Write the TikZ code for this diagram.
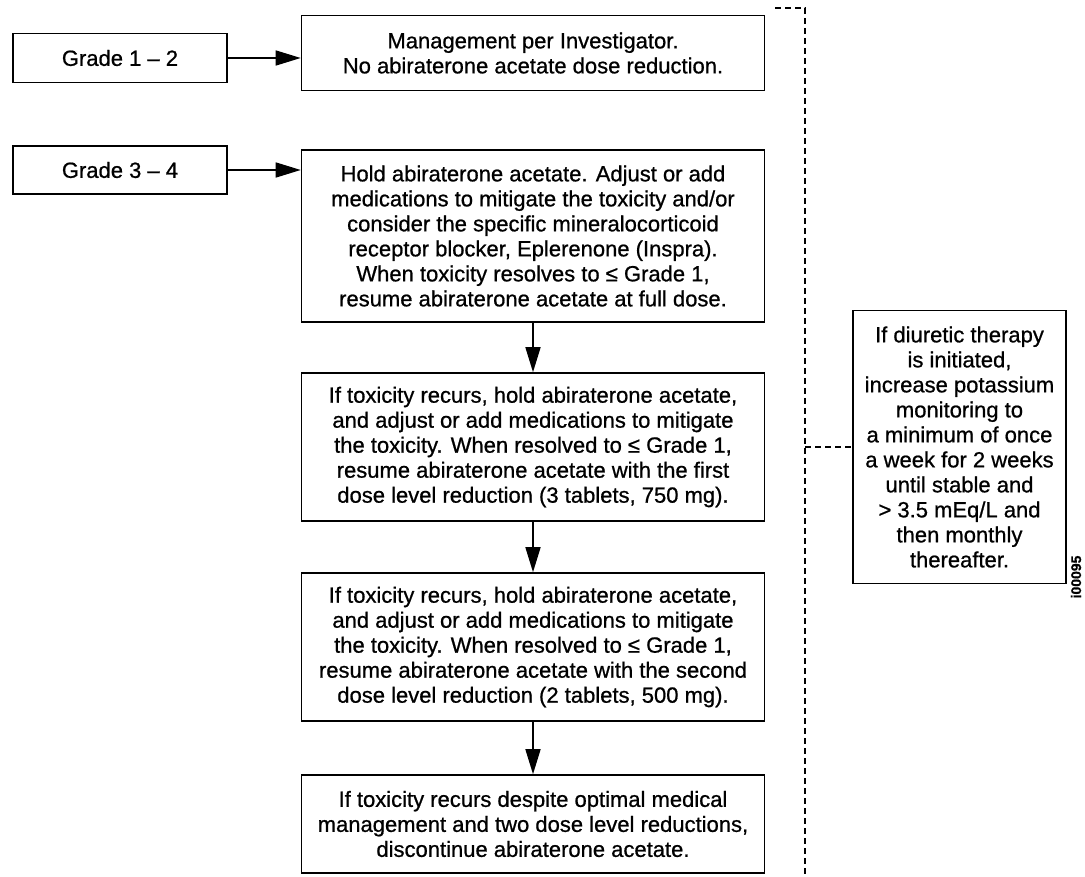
\documentclass[tikz,border=0pt]{standalone}
\usepackage{fontspec}
\setmainfont[FakeBold=0.8]{Liberation Sans}
\usetikzlibrary{arrows.meta}
\tikzset{
  box/.style={draw,line width=1.6pt,align=center,inner sep=0pt,
    font=\fontsize{22}{25}\selectfont},
  flow/.style={line width=1.6pt,-{Triangle[length=25pt,width=15pt]}},
  link/.style={line width=1.6pt,dash pattern=on 6pt off 4pt}
}
\begin{document}
\begin{tikzpicture}[x=1pt,y=-1pt]
  \useasboundingbox (0,0) rectangle (1085,877);
  \node[box,minimum width=214pt,minimum height=49pt] (g12) at (120,58) {Grade 1 – 2};
  \node[box,minimum width=214pt,minimum height=48pt] (g34) at (120,170) {Grade 3 – 4};
  \node[box,minimum width=463pt,minimum height=75pt] (mgmt) at (533,53)
    {Management per Investigator.\\No abiraterone acetate dose reduction.};
  \node[box,minimum width=463pt,minimum height=172pt] (hold) at (533,236)
    {Hold abiraterone acetate. Adjust or add\\
     medications to mitigate the toxicity and/or\\
     consider the specific mineralocorticoid\\
     receptor blocker, Eplerenone (Inspra).\\
     When toxicity resolves to ≤ Grade 1,\\
     resume abiraterone acetate at full dose.};
  \node[box,minimum width=463pt,minimum height=148pt] (rec1) at (533,447)
    {If toxicity recurs, hold abiraterone acetate,\\
     and adjust or add medications to mitigate\\
     the toxicity. When resolved to ≤ Grade 1,\\
     resume abiraterone acetate with the first\\
     dose level reduction (3 tablets, 750 mg).};
  \node[box,minimum width=463pt,minimum height=148pt] (rec2) at (533,647)
    {If toxicity recurs, hold abiraterone acetate,\\
     and adjust or add medications to mitigate\\
     the toxicity. When resolved to ≤ Grade 1,\\
     resume abiraterone acetate with the second\\
     dose level reduction (2 tablets, 500 mg).};
  \node[box,minimum width=463pt,minimum height=98pt] (stop) at (533,824)
    {If toxicity recurs despite optimal medical\\
     management and two dose level reductions,\\
     discontinue abiraterone acetate.};
  \node[box,minimum width=213pt,minimum height=273pt] (diur) at (959.5,447)
    {If diuretic therapy\\is initiated,\\increase potassium\\monitoring to\\
     a minimum of once\\a week for 2 weeks\\until stable and\\> 3.5 mEq/L and\\
     then monthly\\thereafter.};
  \node[rotate=90,font=\fontsize{14}{14}\selectfont\bfseries] (code) at (1076,577) {i00095};
  \draw[flow] (g12.east) -- (g12.east -| mgmt.west);
  \draw[flow] (g34.east) -- (g34.east -| hold.west);
  \draw[flow] (hold) -- (rec1);
  \draw[flow] (rec1) -- (rec2);
  \draw[flow] (rec2) -- (stop);
  % dashed bracket to the side note
  \coordinate (tip) at (775,8);
  \coordinate (bend) at (805,8);
  \coordinate (foot) at (805,880);
  \draw[link] (tip) -- (bend) -- (foot);
  \draw[link] (diur.west -| bend) -- (diur.west);
\end{tikzpicture}
\end{document}
